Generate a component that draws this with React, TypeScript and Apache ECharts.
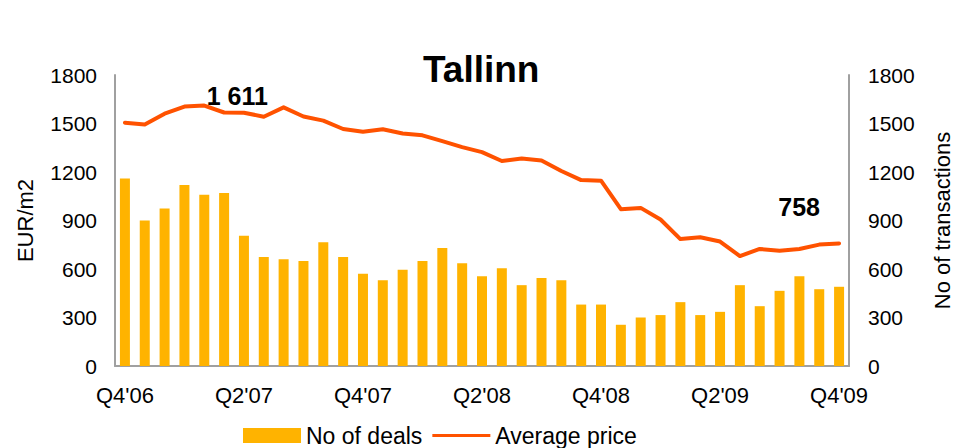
import React, { useEffect, useRef } from "react";
import * as echarts from "echarts";

const months = [
  "Oct'06", "Nov'06", "Dec'06", "Jan'07", "Feb'07", "Mar'07", "Apr'07", "May'07", "Jun'07", "Jul'07",
  "Aug'07", "Sep'07", "Oct'07", "Nov'07", "Dec'07", "Jan'08", "Feb'08", "Mar'08", "Apr'08", "May'08",
  "Jun'08", "Jul'08", "Aug'08", "Sep'08", "Oct'08", "Nov'08", "Dec'08", "Jan'09", "Feb'09", "Mar'09",
  "Apr'09", "May'09", "Jun'09", "Jul'09", "Aug'09", "Sep'09", "Oct'09",
];

const deals = [
  1160, 900, 975, 1120, 1060, 1070, 805, 675, 660, 650, 765, 675, 570, 530, 595, 650, 730, 635, 555, 605,
  500, 545, 530, 380, 380, 255, 300, 315, 395, 315, 335, 500, 370, 465, 555, 475, 490,
];

const price = [
  1505, 1494, 1561, 1605, 1611, 1568, 1567, 1542, 1600, 1543, 1518, 1466, 1449, 1464, 1438, 1427, 1391, 1354, 1323, 1268,
  1283, 1271, 1206, 1150, 1146, 970, 978, 906, 785, 796, 770, 680, 724, 713, 724, 751, 758,
];

const maxIndex = 4;
const lastIndex = price.length - 1;

const FONT = "'Liberation Sans', Arial, sans-serif";
const LINE_COLOR = "#FF5200";
const BAR_COLOR = "#FFB300";

export default function App() {
  const ref = useRef<HTMLDivElement>(null);

  useEffect(() => {
    document.body.style.margin = "0";
    if (!ref.current) return;
    const chart = echarts.init(ref.current, null, { renderer: "svg" });

    const labelStyle = {
      show: true,
      position: "top",
      fontSize: 25,
      fontWeight: "bold",
      color: "#000",
      fontFamily: FONT,
    };

    const lineData = price.map((v, i) => {
      if (i === maxIndex) {
        return {
          value: v,
          symbol: "circle",
          symbolSize: 2,
          itemStyle: { color: LINE_COLOR },
          label: { ...labelStyle, offset: [33, 9], formatter: "1 611" },
        };
      }
      if (i === lastIndex) {
        return {
          value: v,
          symbol: "circle",
          symbolSize: 2,
          itemStyle: { color: LINE_COLOR },
          label: { ...labelStyle, offset: [-40, -18], formatter: String(v) },
        };
      }
      return v;
    });

    const axisLine = { show: true, lineStyle: { color: "#A0A0A0", width: 2 } };
    const plain = (v: number) => String(v);

    chart.setOption({
      animation: false,
      backgroundColor: "#fff",
      textStyle: { fontFamily: FONT },
      title: {
        text: "Tallinn",
        left: 418,
        top: 46,
        textStyle: { fontSize: 37, fontWeight: "bold", color: "#000", fontFamily: FONT },
      },
      grid: {
        left: 115,
        right: 106,
        top: 75,
        bottom: 82,
        containLabel: false,
        outerBoundsMode: "none",
      },
      legend: {
        left: 243,
        top: 424,
        padding: 0,
        itemWidth: 58,
        itemHeight: 15,
        itemGap: 10,
        textStyle: { fontSize: 23, color: "#000", fontFamily: FONT },
        data: [
          { name: "No of deals", icon: "rect" },
          { name: "Average price", icon: "path://M0,0H61V3H0Z" },
        ],
      },
      xAxis: {
        type: "category",
        data: months,
        boundaryGap: true,
        axisLine,
        axisTick: { show: false },
        axisLabel: {
          interval: 5,
          margin: 18,
          fontSize: 22,
          color: "#000",
          fontFamily: FONT,
          formatter: (v: string) => v.replace("Oct", "Q4").replace("Apr", "Q2"),
        },
      },
      yAxis: [
        {
          type: "value",
          min: 0,
          max: 1800,
          interval: 300,
          position: "left",
          name: "EUR/m2",
          nameLocation: "middle",
          nameGap: 79,
          nameTextStyle: { fontSize: 22, color: "#000", fontFamily: FONT },
          axisLine,
          axisTick: { show: false },
          splitLine: { show: false },
          axisLabel: { margin: 18, fontSize: 21, color: "#000", fontFamily: FONT, formatter: plain },
        },
        {
          type: "value",
          min: 0,
          max: 1800,
          interval: 300,
          position: "right",
          name: "No of transactions",
          nameLocation: "middle",
          nameGap: 82,
          nameTextStyle: { fontSize: 22, color: "#000", fontFamily: FONT },
          axisLine,
          axisTick: { show: false },
          splitLine: { show: false },
          axisLabel: { margin: 19, fontSize: 21, color: "#000", fontFamily: FONT, formatter: plain },
        },
      ],
      series: [
        {
          name: "No of deals",
          type: "bar",
          yAxisIndex: 1,
          data: deals,
          barWidth: 10,
          itemStyle: { color: BAR_COLOR },
        },
        {
          name: "Average price",
          type: "line",
          yAxisIndex: 0,
          data: lineData,
          symbol: "none",
          showSymbol: true,
          lineStyle: { color: LINE_COLOR, width: 4, cap: "round", join: "round" },
          itemStyle: { color: LINE_COLOR },
          z: 3,
        },
      ],
    });

    return () => chart.dispose();
  }, []);

  return <div ref={ref} style={{ width: 955, height: 448 }} />;
}
